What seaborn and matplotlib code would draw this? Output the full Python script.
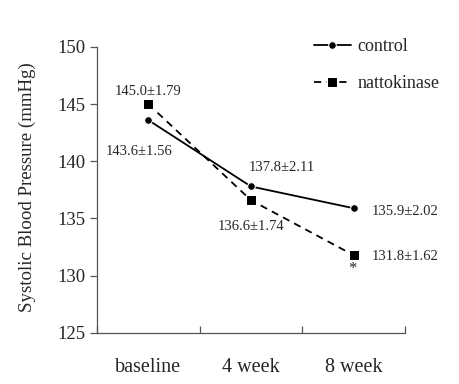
import numpy as np
import pandas as pd
import seaborn as sns
import matplotlib.pyplot as plt

# values
times = ["baseline", "4 week", "8 week"]
control = [143.6, 137.8, 135.9]
natto = [145.0, 136.6, 131.8]
control_sd = ["1.56", "2.11", "2.02"]
natto_sd = ["1.79", "1.74", "1.62"]

sns.set_style("white")
plt.rcParams["font.family"] = ["Liberation Serif", "DejaVu Serif"]

fig = plt.figure(figsize=(4.6, 3.84), dpi=100)
ax = fig.add_axes([0.211, 0.133, 0.669, 0.745])

sns.lineplot(x=times, y=control, marker="o", markersize=5.5, color="black",
             linewidth=1.3, label="control", ax=ax)
sns.lineplot(x=times, y=natto, marker="s", markersize=6.5, color="black",
             linewidth=1.3, linestyle=(0, (4, 3)), label="nattokinase", ax=ax)

ax.set_xlim(-0.5, 2.5)
ax.set_ylim(125, 150)
ax.set_yticks([125, 130, 135, 140, 145, 150])

# category boundaries get the small upward ticks, labels sit in between
ax.set_xticks([0, 1, 2])
ax.set_xticks([-0.5, 0.5, 1.5, 2.5], minor=True)
ax.tick_params(axis="x", which="major", length=0, labelsize=14.5, pad=18)
ax.tick_params(axis="x", which="minor", direction="in", length=5, width=0.9,
               color="#555555", bottom=True)
ax.tick_params(axis="y", direction="out", length=5, width=0.9,
               color="#555555", labelsize=13.5, left=True, pad=3)

for side in ["top", "right"]:
    ax.spines[side].set_visible(False)
for side in ["left", "bottom"]:
    ax.spines[side].set_color("#555555")
    ax.spines[side].set_linewidth(0.9)

ax.set_ylabel("Systolic Blood Pressure (mmHg)", fontsize=13.6)
ax.yaxis.set_label_coords(-0.20, 0.51)

# mean ± SE labels
fs = 10.5
offs_c = [(-9, -31, "center"), (31, 19, "center"), (18, -3, "left")]
offs_n = [(0, 13, "center"), (0, -26, "center"), (18, -1, "left")]
for i in range(3):
    dx, dy, ha = offs_c[i]
    ax.annotate(f"{control[i]:.1f}±{control_sd[i]}", (i, control[i]),
                xytext=(dx, dy), textcoords="offset pixels",
                ha=ha, va="center", fontsize=fs)
    dx, dy, ha = offs_n[i]
    ax.annotate(f"{natto[i]:.1f}±{natto_sd[i]}", (i, natto[i]),
                xytext=(dx, dy), textcoords="offset pixels",
                ha=ha, va="center", fontsize=fs)

ax.annotate("*", (2, natto[2]), xytext=(-1, -14), textcoords="offset pixels",
            ha="center", va="center", fontsize=12)

leg = ax.legend(loc="upper left", bbox_to_anchor=(0.652, 1.087), frameon=False,
                fontsize=13, handlelength=2.05, handletextpad=0.35,
                labelspacing=1.12)

fig.savefig("out.png", dpi=100)
